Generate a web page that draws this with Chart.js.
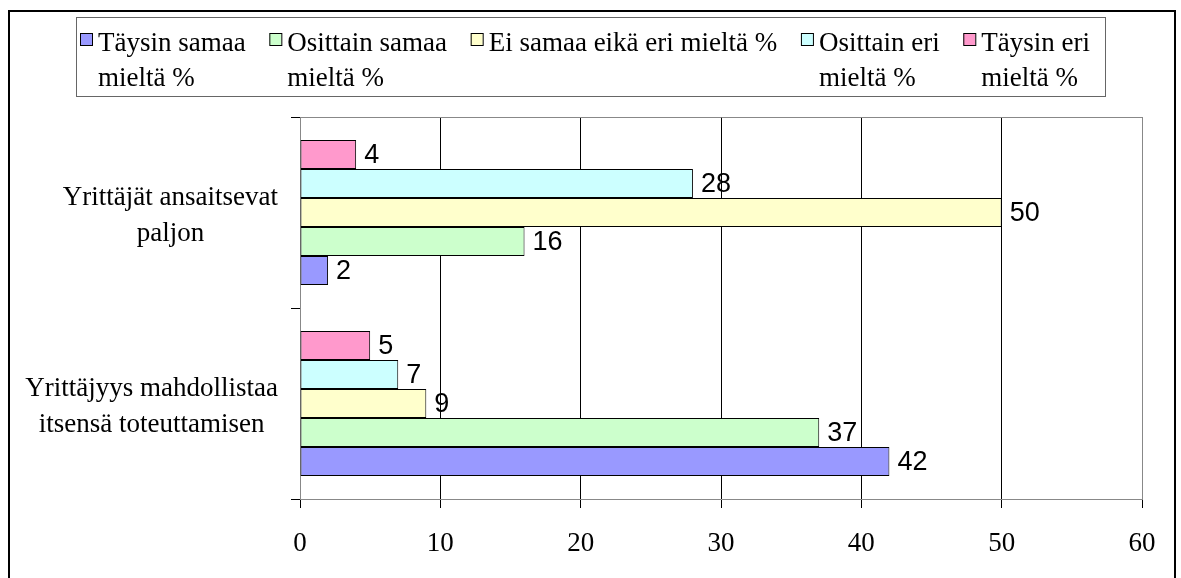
<!DOCTYPE html>
<html>
<head>
<meta charset="utf-8">
<script src="https://cdn.jsdelivr.net/npm/chart.js@4.4.0/dist/chart.umd.min.js"></script>
<style>
  body { margin: 0; background: #fff; }
  #wrap { position: relative; width: 1181px; height: 578px; overflow: hidden; background: #fff; }
  #frame { position: absolute; left: 8px; top: 10px; width: 1164px; height: 620px; border: 2px solid #000; }
  #chart { position: absolute; left: 0; top: 0; }
</style>
</head>
<body>
<div id="wrap">
  <div id="frame"></div>
  <canvas id="chart" width="1181" height="578"></canvas>
</div>
<script>
const categories = [['Yrittäjät ansaitsevat', 'paljon'], ['Yrittäjyys mahdollistaa', 'itsensä toteuttamisen']];
const seriesNames = [
    ['Täysin samaa', 'mieltä %'],
    ['Osittain samaa', 'mieltä %'],
    ['Ei samaa eikä eri mieltä %'],
    ['Osittain eri', 'mieltä %'],
    ['Täysin eri', 'mieltä %']
];
const taysinSamaa = [2, 42];
const osittainSamaa = [16, 37];
const eiSamaaEikaEri = [50, 9];
const osittainEri = [28, 7];
const taysinEri = [4, 5];
const xTicks = [0, 10, 20, 30, 40, 50, 60];

const seriesColors = ['#9999FF', '#CCFFCC', '#FFFFCC', '#CCFFFF', '#FF99CC'];
const allSeries = [taysinSamaa, osittainSamaa, eiSamaaEikaEri, osittainEri, taysinEri];

const serif = '27px "Liberation Serif"';

// first series sits at the bottom of each group, so feed them reversed
const datasets = allSeries.map((data, i) => ({
    label: seriesNames[i].join(' '),
    data: data,
    backgroundColor: seriesColors[i],
    borderColor: '#000',
    borderWidth: 1,
    borderSkipped: false,
    barPercentage: 1,
    categoryPercentage: 0.76
})).reverse();

const extras = {
    id: 'extras',
    beforeDatasetsDraw(chart) {
        const { ctx, chartArea: a } = chart;
        ctx.save();
        ctx.strokeStyle = '#888';
        ctx.lineWidth = 1;
        ctx.beginPath();
        ctx.moveTo(a.left, a.top + 0.5);
        ctx.lineTo(a.right + 0.5, a.top + 0.5);
        ctx.lineTo(a.right + 0.5, a.bottom);
        ctx.stroke();
        ctx.restore();
    },
    afterDatasetsDraw(chart) {
        const ctx = chart.ctx;
        ctx.save();
        ctx.font = '27px "Liberation Sans"';
        ctx.fillStyle = '#000';
        ctx.textAlign = 'left';
        ctx.textBaseline = 'middle';
        chart.data.datasets.forEach((ds, i) => {
            chart.getDatasetMeta(i).data.forEach((bar, j) => {
                ctx.fillText(ds.data[j], bar.x + 8, bar.y + 1);
            });
        });
        ctx.restore();
    },
    afterDraw(chart) {
        const ctx = chart.ctx;
        const yScale = chart.scales.y;
        ctx.save();
        ctx.font = serif;
        ctx.fillStyle = '#000';
        ctx.textAlign = 'center';
        ctx.textBaseline = 'alphabetic';
        categories.forEach((lines, i) => {
            const cy = yScale.getPixelForValue(i);
            const maxW = Math.max(...lines.map(l => ctx.measureText(l).width));
            const cx = 278 - maxW / 2;
            lines.forEach((l, k) => {
                ctx.fillText(l, cx, cy - 8 + k * 36.5);
            });
        });

        // legend box, Excel style with wrapped entries
        ctx.strokeStyle = '#666';
        ctx.lineWidth = 1;
        ctx.strokeRect(76.5, 17.5, 1029, 79);
        ctx.textAlign = 'left';
        const widths = seriesNames.map(n => 18 + Math.max(...n.map(l => ctx.measureText(l).width)));
        const total = widths.reduce((s, w) => s + w, 0);
        const gap = (1090 - 80 - total) / (seriesNames.length - 1);
        let x = 80;
        seriesNames.forEach((lines, i) => {
            ctx.fillStyle = seriesColors[i];
            ctx.fillRect(x, 33, 12, 12);
            ctx.strokeStyle = '#000';
            ctx.strokeRect(x + 0.5, 33.5, 12, 12);
            ctx.fillStyle = '#000';
            lines.forEach((l, k) => {
                ctx.fillText(l, x + 18, 51 + k * 35);
            });
            x += widths[i] + gap;
        });
        ctx.restore();
    }
};

new Chart(document.getElementById('chart'), {
    type: 'bar',
    data: { labels: categories, datasets: datasets },
    options: {
        indexAxis: 'y',
        responsive: false,
        animation: false,
        layout: { padding: { left: 0, top: 117, right: 39, bottom: 0 } },
        plugins: { legend: { display: false }, tooltip: { enabled: false } },
        scales: {
            x: {
                min: 0,
                max: 60,
                afterBuildTicks: s => { s.ticks = xTicks.map(v => ({ value: v })); },
                afterFit: s => { s.height = 79; },
                grid: {
                    color: c => (c.tick && (c.tick.value === 0 || c.tick.value === 60)) ? '#888' : '#000',
                    tickColor: '#000',
                    tickLength: 9,
                    lineWidth: 1
                },
                border: { color: '#888' },
                ticks: {
                    color: '#000',
                    padding: 20,
                    font: { family: 'Liberation Serif', size: 27 }
                }
            },
            y: {
                afterFit: s => { s.width = 300; },
                grid: {
                    drawOnChartArea: false,
                    tickColor: '#000',
                    tickLength: 9
                },
                border: { color: '#888' },
                ticks: { display: false }
            }
        }
    },
    plugins: [extras]
});
</script>
</body>
</html>
